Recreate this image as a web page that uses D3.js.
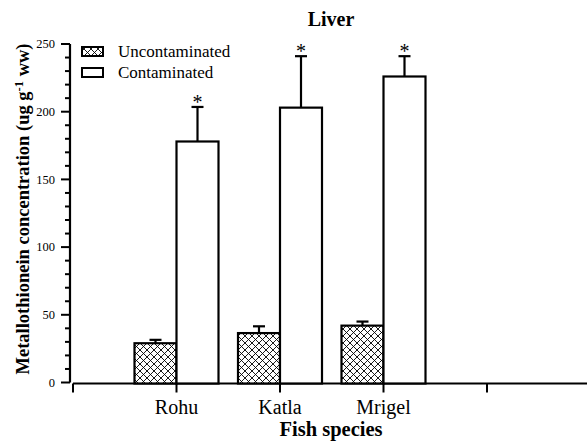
<!DOCTYPE html>
<html>
<head>
<meta charset="utf-8">
<script src="https://cdn.jsdelivr.net/npm/d3@7"></script>
<style>
  html, body { margin: 0; padding: 0; background: #fff; }
  svg { display: block; }
  text { font-family: "Liberation Serif", "Times New Roman", serif; fill: #000; }
</style>
</head>
<body>
<svg id="chart" width="587" height="446"></svg>
<script>
// ---- data ----
const categories = ["Rohu", "Katla", "Mrigel"];
const seriesNames = ["Uncontaminated", "Contaminated"];
const uncontaminated = [29, 36.5, 42];
const uncontaminatedErr = [2.5, 5, 3];
const contaminated = [178, 203, 226];
const contaminatedErr = [25.5, 38, 15];
const significant = [true, true, true];
const yTicks = [0, 50, 100, 150, 200, 250];

const svg = d3.select("#chart");

const xDomain = ["_s"].concat(categories, ["_e"]);
const x = d3.scalePoint().domain(xDomain).range([73, 487]);
const y = d3.scaleLinear().domain([0, 250]).range([382.5, 44]);
const barW = 42;

// hatch pattern
const defs = svg.append("defs");
const pat = defs.append("pattern")
  .attr("id", "hatch").attr("patternUnits", "userSpaceOnUse")
  .attr("width", 7).attr("height", 7);
pat.append("rect").attr("width", 7).attr("height", 7).attr("fill", "#fff");
pat.append("path").attr("d", "M0,0 L7,7 M7,0 L0,7 M-1,6 L1,8 M6,-1 L8,1 M-1,1 L1,-1 M6,8 L8,6")
  .attr("stroke", "#000").attr("stroke-width", 0.9);

// title
svg.append("text").attr("x", 331).attr("y", 26).attr("text-anchor", "middle")
  .attr("font-weight", "bold").attr("font-size", 20).text("Liver");

// y axis
const yAxis = svg.append("g").attr("transform", "translate(70,0)");
yAxis.append("line").attr("x1", 0).attr("x2", 0).attr("y1", y(250)).attr("y2", y(0))
  .attr("stroke", "#000").attr("stroke-width", 2.2);
const minor = d3.range(0, 251, 10);
yAxis.selectAll("line.minor").data(minor).enter().append("line")
  .attr("class", "minor")
  .attr("x1", d => yTicks.includes(d) ? -9 : -5).attr("x2", 0)
  .attr("y1", d => y(d)).attr("y2", d => y(d))
  .attr("stroke", "#000").attr("stroke-width", 2);
yAxis.selectAll("text.tl").data(yTicks).enter().append("text")
  .attr("class", "tl")
  .attr("x", -15).attr("y", d => y(d)).attr("dy", "0.33em")
  .attr("text-anchor", "end").attr("font-size", 12.5)
  .text(d => d);

// y label
const yl = svg.append("text")
  .attr("transform", "translate(29,209) rotate(-90)")
  .attr("text-anchor", "middle").attr("font-weight", "bold").attr("font-size", 18.5);
yl.append("tspan").text("Metallothionein concentration (ug g");
yl.append("tspan").attr("dy", -6).attr("font-size", 12.5).text("-1");
yl.append("tspan").attr("dy", 6).text(" ww)");

// x axis
const xAxisY = 383.5;
svg.append("line").attr("x1", 73).attr("x2", 590).attr("y1", xAxisY).attr("y2", xAxisY)
  .attr("stroke", "#000").attr("stroke-width", 2);
svg.selectAll("line.xt").data(xDomain).enter().append("line")
  .attr("class", "xt")
  .attr("x1", d => x(d)).attr("x2", d => x(d))
  .attr("y1", xAxisY).attr("y2", xAxisY + 9)
  .attr("stroke", "#000").attr("stroke-width", 2);
svg.selectAll("text.xl").data(categories).enter().append("text")
  .attr("class", "xl")
  .attr("x", d => x(d)).attr("y", 414).attr("text-anchor", "middle")
  .attr("font-size", 20).text(d => d);
svg.append("text").attr("x", 331).attr("y", 436).attr("text-anchor", "middle")
  .attr("font-weight", "bold").attr("font-size", 20.5).text("Fish species");

// bars
function drawSeries(vals, errs, offset, fill, star) {
  const g = svg.append("g");
  categories.forEach((c, i) => {
    const x0 = x(c) + offset;
    const cx = x0 + barW / 2;
    const top = y(vals[i]);
    const eTop = y(vals[i] + errs[i]);
    g.append("line").attr("x1", cx).attr("x2", cx).attr("y1", top).attr("y2", eTop)
      .attr("stroke", "#000").attr("stroke-width", 2.2);
    g.append("line").attr("x1", cx - 6).attr("x2", cx + 6).attr("y1", eTop).attr("y2", eTop)
      .attr("stroke", "#000").attr("stroke-width", 2.2);
    g.append("rect").attr("x", x0).attr("y", top).attr("width", barW)
      .attr("height", y(0) - top + 1)
      .attr("fill", fill).attr("stroke", "#000").attr("stroke-width", 2.2);
    if (star && significant[i]) {
      g.append("text").attr("x", cx).attr("y", eTop + 2).attr("text-anchor", "middle")
        .attr("font-size", 20).text("*");
    }
  });
}
drawSeries(uncontaminated, uncontaminatedErr, -barW, "url(#hatch)", false);
drawSeries(contaminated, contaminatedErr, 0, "#fff", true);

// legend
const legend = svg.append("g");
const lfill = ["url(#hatch)", "#fff"];
const ly = [47, 68];
const lty = [56.5, 78];
seriesNames.forEach((s, i) => {
  legend.append("rect").attr("x", 82).attr("y", ly[i]).attr("width", 21).attr("height", 9)
    .attr("fill", lfill[i]).attr("stroke", "#000").attr("stroke-width", 2);
  legend.append("text").attr("x", 118).attr("y", lty[i]).attr("font-size", 17).text(s);
});
</script>
</body>
</html>
